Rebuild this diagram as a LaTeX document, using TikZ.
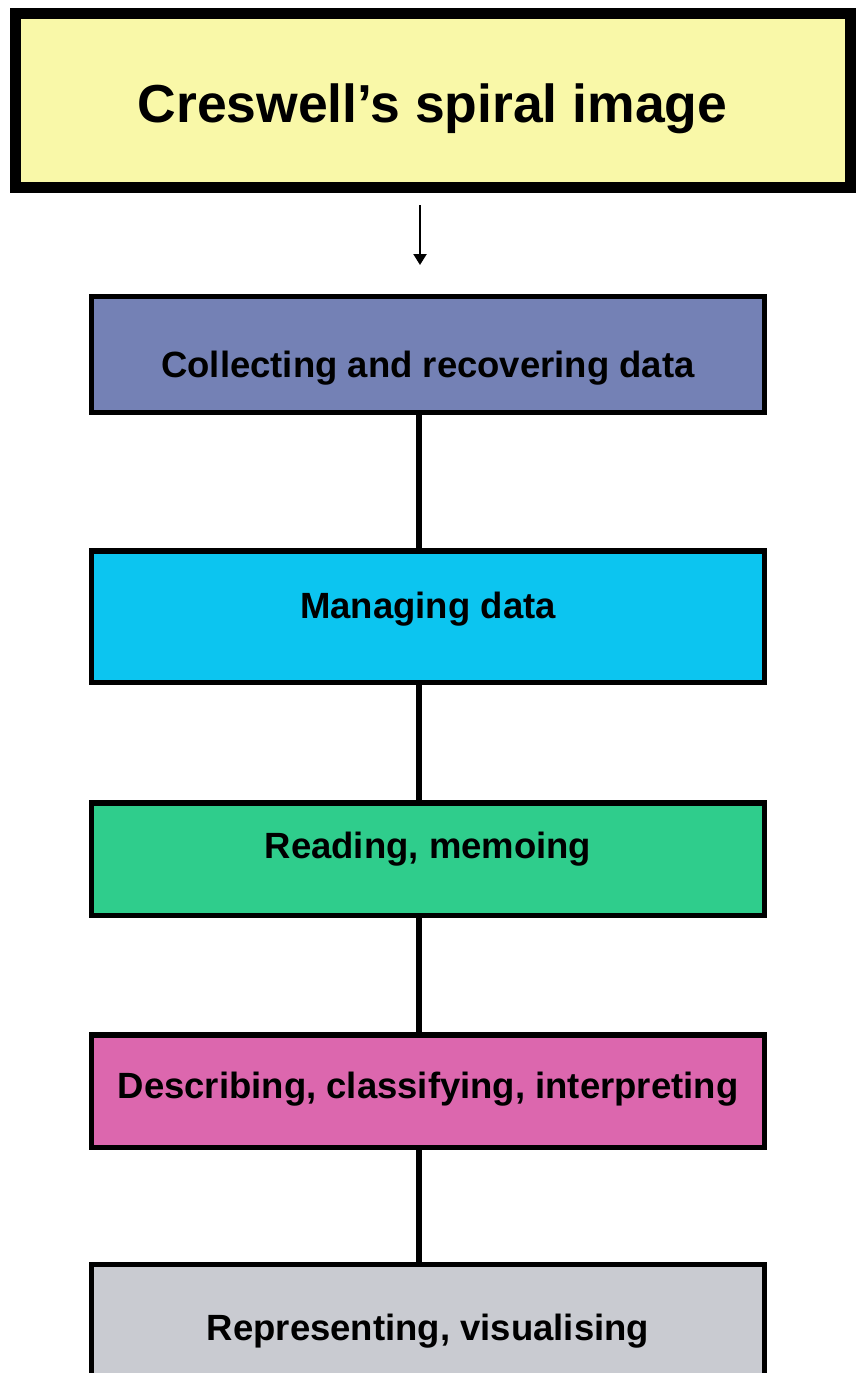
\documentclass[tikz,border=0pt]{standalone}
\usepackage{fontspec}
\setmainfont{Liberation Sans}
\usetikzlibrary{arrows.meta}

\definecolor{titlefill}{HTML}{F9F8A8}
\definecolor{collectfill}{HTML}{7481B5}
\definecolor{managefill}{HTML}{0CC5F0}
\definecolor{readfill}{HTML}{2FCD8C}
\definecolor{describefill}{HTML}{DC67AE}
\definecolor{representfill}{HTML}{C9CBD1}

\tikzset{
  titlebox/.style={draw=black, line width=11pt, fill=titlefill, inner sep=0pt, outer sep=0pt,
    minimum width=835pt, minimum height=174pt,
    font=\fontsize{53.5}{60}\selectfont\bfseries},
  stepbox/.style={draw=black, line width=5.5pt, inner sep=0pt, outer sep=0pt,
    minimum width=673pt, font=\fontsize{36.5}{42}\selectfont\bfseries},
  spineline/.style={line width=6pt},
  leadarrow/.style={line width=2.2pt, -{Triangle[width=13pt,length=11pt]}},
}

\begin{document}
\begin{tikzpicture}[x=1pt, y=-1pt]
  \useasboundingbox (0,0) rectangle (855,1373);
  \fill[white] (0,0) rectangle (855,1373);

  % heading
  \node[titlebox, text height=44pt, text depth=0pt] (title) at (432.5,100) {Creswell’s spiral image};

  % the five stages
  \node[stepbox, fill=collectfill, minimum height=116pt, text height=45pt, text depth=0pt]
    (collect) at (428,354.5) {Collecting and recovering data};
  \node[stepbox, fill=managefill, minimum height=131.5pt, text height=3pt, text depth=0pt]
    (manage) at (428,616.5) {Managing data};
  \node[stepbox, fill=readfill, minimum height=112.5pt, text height=0pt, text depth=2pt]
    (read) at (428,859) {Reading, memoing};
  \node[stepbox, fill=describefill, minimum height=112.5pt, text height=14pt, text depth=0pt]
    (describe) at (428,1091) {Describing, classifying, interpreting};
  \node[stepbox, fill=representfill, minimum height=116pt, text height=35pt, text depth=0pt]
    (represent) at (428,1322.5) {Representing, visualising};

  % vertical line carrying the connectors
  \coordinate (spine) at (419,0);
  \coordinate (leadx) at (420,0);

  \draw[leadarrow, shorten <=18pt, shorten >=31.5pt] (title.south -| leadx) -- (collect.north -| leadx);
  \draw[spineline] (collect.south -| spine) -- (manage.north -| spine);
  \draw[spineline] (manage.south -| spine) -- (read.north -| spine);
  \draw[spineline] (read.south -| spine) -- (describe.north -| spine);
  \draw[spineline] (describe.south -| spine) -- (represent.north -| spine);
\end{tikzpicture}
\end{document}
